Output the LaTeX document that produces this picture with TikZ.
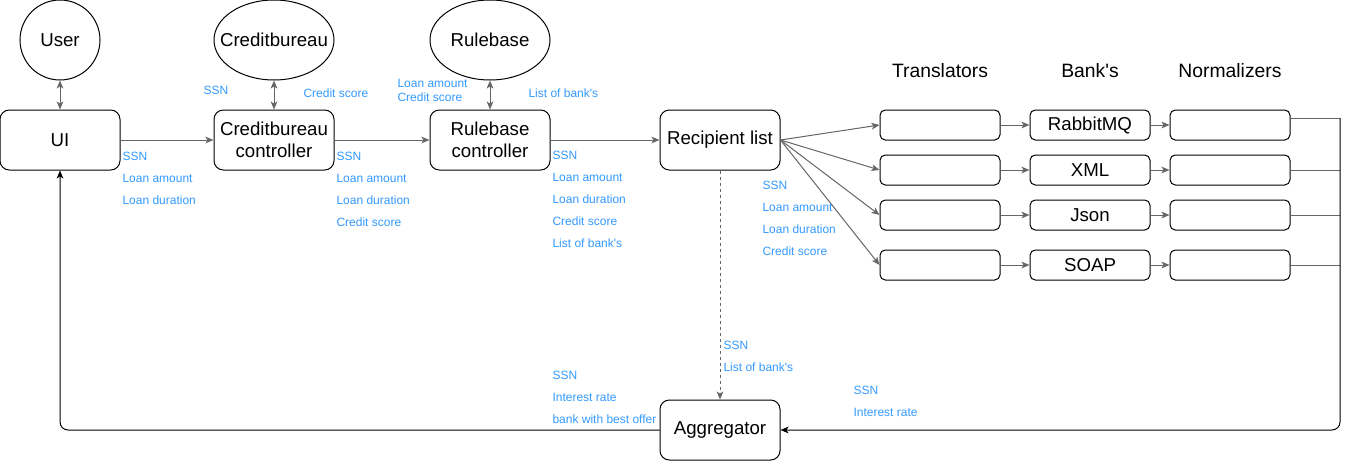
\documentclass[tikz,border=0pt]{standalone}
\usepackage{fontspec}
\setmainfont{Liberation Sans}
\usetikzlibrary{arrows.meta,shapes.geometric}
\definecolor{lblue}{HTML}{3399FF}
\definecolor{lgray}{HTML}{666666}
\newcommand\apos{\textquotesingle}

\begin{document}
\begin{tikzpicture}[x=0.75pt, y=-0.75pt, line width=0.75pt,
  >={Stealth[length=6pt,width=5pt,inset=1.5pt]},
  box/.style={draw, rounded corners=7pt, minimum width=90pt, minimum height=45pt,
    inner sep=1pt, align=center, font=\fontsize{14}{16.5}\selectfont},
  slot/.style={draw, rounded corners=4pt, minimum width=90pt, minimum height=22.5pt,
    inner sep=1pt, font=\fontsize{14}{15}\selectfont},
  blob/.style={draw, ellipse, minimum width=90pt, minimum height=60pt,
    inner sep=0pt, font=\fontsize{14}{15}\selectfont},
  head/.style={font=\fontsize{14.5}{15}\selectfont},
  info/.style={anchor=north west, inner sep=0pt, align=left, text=lblue,
    font=\fontsize{9}{16.5}\selectfont},
  tight/.style={info, font=\fontsize{9}{10.5}\selectfont},
  flow/.style={->, lgray},
  back/.style={->, black, rounded corners=6pt}]
  \useasboundingbox (0,0) rectangle (1349,471);

  % outside parties
  \node[blob, minimum width=60pt] (user) at (60,40) {\makebox[0pt]{User}};
  \node[blob] (cbdb) at (274,40) {\makebox[0pt]{Creditbureau}};
  \node[blob] (rbdb) at (490,40) {\makebox[0pt]{Rulebase}};

  % main line
  \node[box] (ui) at (60,140) {UI};
  \node[box] (cbc) at (274,140) {Creditbureau\\controller};
  \node[box] (rbc) at (490,140) {Rulebase\\controller};
  \node[box] (rl) at (720,140) {Recipient list};
  \node[box] (agg) at (720,430) {Aggregator};

  \draw[flow, <->] (user) -- (ui);
  \draw[flow, <->] (cbdb) -- (cbc);
  \draw[flow, <->] (rbdb) -- (rbc);
  \draw[flow] (ui) -- (cbc);
  \draw[flow] (cbc) -- (rbc);
  \draw[flow] (rbc) -- (rl);
  \draw[flow, dash pattern=on 2.25pt off 2.25pt] (rl) -- (agg);

  % banks
  \node[head] (thead) at (940,71) {Translators};
  \node[head] (bhead) at (1090,71) {Bank\apos s};
  \node[head] (nhead) at (1230,71) {Normalizers};
  \foreach \y/\bank [count=\i] in {125/RabbitMQ, 170/XML, 215/Json, 265/SOAP} {
    \node[slot] (t\i) at (940,\y) {};
    \node[slot] (b\i) at (1090,\y) {\bank};
    \node[slot] (n\i) at (1230,\y) {};
    \draw[flow] (rl.east) -- (t\i.west);
    \draw[flow] (t\i) -- (b\i);
    \draw[flow] (b\i) -- (n\i);
  }

  % way back
  \coordinate (bus) at (1340,118);
  \draw[lgray] (n1.east |- bus) -- (bus);
  \foreach \i in {2,3,4}
    \draw[lgray] (n\i.east) -- (n\i.east -| bus);
  \draw[back] (bus) -- (bus |- agg.east) -- (agg.east);
  \draw[back] (agg.west) -- (agg.west -| ui.south) -- (ui.south);

  % data labels
  \node[info] (ssn1) at (203,86) {SSN};
  \node[info] (score1) at (303,88) {Credit score};
  \node[tight] (rbin) at (397,79) {Loan amount\\Credit score};
  \node[info] (list1) at (528,88) {List of bank\apos s};
  \node[info] (uiout) at (122,152) {SSN\\Loan amount\\Loan duration};
  \node[info] (cbout) at (336,152) {SSN\\Loan amount\\Loan duration\\Credit score};
  \node[info] (rbout) at (552,151) {SSN\\Loan amount\\Loan duration\\Credit score\\List of bank\apos s};
  \node[info] (rlout) at (762,181) {SSN\\Loan amount\\Loan duration\\Credit score};
  \node[info] (aggin) at (723,341) {SSN\\List of bank\apos s};
  \node[info] (aggout) at (552,371) {SSN\\Interest rate\\bank with best offer};
  \node[info] (bankout) at (853,386) {SSN\\Interest rate};
\end{tikzpicture}
\end{document}
